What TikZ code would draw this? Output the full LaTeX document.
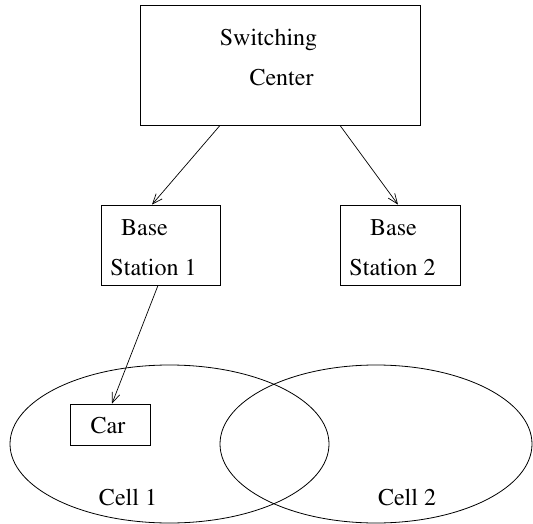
\documentclass[tikz,border=0pt]{standalone}
\usepackage[T1]{fontenc}
\usepackage{times}
\usetikzlibrary{arrows.meta,shapes.geometric,calc}
\begin{document}
\begin{tikzpicture}[x=1pt,y=-1pt,
  box/.style={draw, line width=0.8pt, inner sep=0pt},
  cellshape/.style={draw, ellipse, line width=0.8pt, inner sep=0pt},
  lbl/.style={inner sep=0pt, anchor=base, font=\fontsize{24}{28}\selectfont},
  conn/.style={line width=0.7pt, -{Straight Barb[length=10pt,width=8pt]}}]
\useasboundingbox (0,0) rectangle (533,524);
% boxes
\node[box, minimum width=280pt, minimum height=120pt] (sc) at (280,65) {};
\node[box, minimum width=119pt, minimum height=80pt] (bs1) at (160.5,245) {};
\node[box, minimum width=120pt, minimum height=80pt] (bs2) at (400,245) {};
\node[box, minimum width=80pt, minimum height=41pt] (car) at (110,424.5) {};
% cells
\node[cellshape, minimum width=319pt, minimum height=158pt] (cell1) at (169.5,444) {};
\node[cellshape, minimum width=312pt, minimum height=158pt] (cell2) at (376,444) {};
% texts
\node[lbl] (t1) at (268.5,46) {Switching};
\node[lbl] (t2) at (281.5,86) {Center};
\node[lbl] (t3) at (144.5,235) {Base};
\node[lbl] (t4) at (153.5,275) {Station 1};
\node[lbl] (t5) at (393.5,235) {Base};
\node[lbl] (t6) at (392.5,275) {Station 2};
\node[lbl] (t7) at (108,433) {Car};
\node[lbl] (t8) at (128,505) {Cell 1};
\node[lbl] (t9) at (407,505) {Cell 2};
% connectors
\draw[conn] ($(sc.south)+(-60,0)$) -- ($(bs1.north)+(-8.5,0)$);
\draw[conn] ($(sc.south)+(60,0)$) -- ($(bs2.north)+(-2,0)$);
\draw[conn] ($(bs1.south)+(-2.5,0)$) -- ($(car.north)+(2,0)$);
\end{tikzpicture}
\end{document}
